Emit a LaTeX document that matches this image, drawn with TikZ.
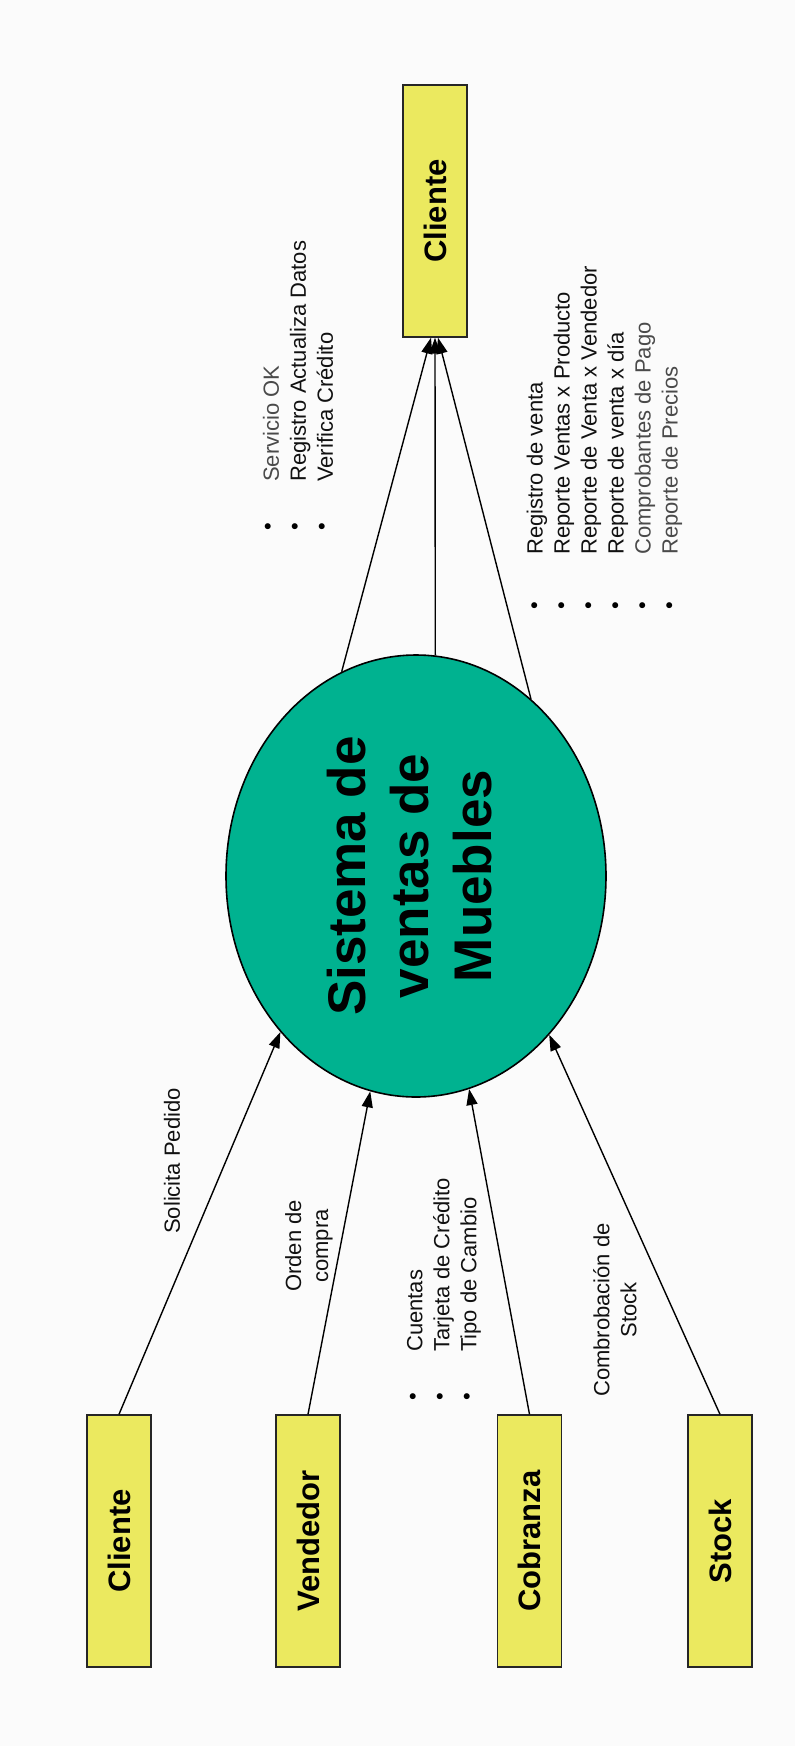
\documentclass[tikz,border=0pt]{standalone}
\usepackage{fontspec}
\usepackage{graphicx}
\setmainfont{Liberation Sans}
\usetikzlibrary{shapes.geometric,arrows.meta}

\definecolor{boxyellow}{HTML}{EBE95F}
\definecolor{procteal}{HTML}{00B290}
\definecolor{pagebg}{HTML}{FBFBFB}
\definecolor{inktext}{HTML}{111111}
\definecolor{softtext}{HTML}{4A4A4A}

\begin{document}
\begin{tikzpicture}[x=1pt,y=1pt,
  entity/.style={draw=black!85, line width=1.4pt, fill=boxyellow,
    minimum width=64pt, minimum height=252pt, inner sep=0pt,
    font=\bfseries\fontsize{31}{36}\selectfont},
  process/.style={ellipse, draw=black, line width=1.6pt, fill=procteal,
    minimum width=380pt, minimum height=442pt, inner sep=0pt,
    font=\bfseries\fontsize{53}{63}\selectfont},
  flow/.style={line width=1.4pt, -{Triangle[length=16pt,width=11pt]}},
  lbl/.style={rotate=90, inner sep=0pt, text=inktext,
    font=\fontsize{22}{27}\selectfont},
  dots/.style={rotate=90, inner sep=0pt, align=left, text=black,
    font=\fontsize{22}{27}\selectfont},
]
% page
\fill[pagebg] (0,0) rectangle (795,-1746);
\useasboundingbox (0,0) rectangle (795,-1746);

% central process
\node[process] (sys) at (416,-876)
  {\rotatebox{90}{\begin{tabular}{@{}c@{}}Sistema de\\ventas de\\Muebles\end{tabular}}};

% external entities
\node[entity] (cliOut) at (435,-211) {\rotatebox{90}{Cliente}};
\node[entity] (cliIn)  at (119,-1541) {\rotatebox{90}{Cliente}};
\node[entity] (vend)   at (308,-1541) {\rotatebox{90}{Vendedor}};
\node[entity] (cobr)   at (529.5,-1541) {\rotatebox{90}{Cobranza}};
\node[entity] (stock)  at (720,-1541) {\rotatebox{90}{Stock}};

% incoming flows
\draw[flow] (cliIn.north) -- (sys.229);
\draw[flow] (vend.north)  -- (sys.258);
\draw[flow] (cobr.north)  -- (sys.284);
\draw[flow] (stock.north) -- (sys.310);

% outgoing flows
\draw[flow] (sys.110) -- ([xshift=-4pt]cliOut.south);
\draw[flow] (sys.85)  -- (cliOut.south);
\draw[flow] (sys.57)  -- ([xshift=3pt]cliOut.south);

% flow labels, lower half
\node[lbl] (lSol) at (172,-1161) {Solicita Pedido};
\node[lbl, align=center] (lOrd) at (309,-1246) {Orden de\\compra};
\node[lbl, align=left, anchor=west] (lCob) at (444,-1352)
  {Cuentas\\Tarjeta de Crédito\\Tipo de Cambio};
\node[dots] (dCob) at (442,-1397) {•\\•\\•};
\node[lbl, align=center] (lStk) at (615,-1310) {Combrobación de\\Stock};

% flow labels, upper half
\node[lbl, align=left, anchor=west] (lSrv) at (298,-482)
  {\textcolor{softtext}{Servicio OK}\\Registro Actualiza Datos\\Verifica Crédito};
\node[dots] (dSrv) at (297,-527) {•\\•\\•};
\node[lbl, align=left, anchor=west] (lRep) at (604.5,-555)
  {Registro de venta\\Reporte Ventas x Producto\\Reporte de Venta x Vendedor\\%
   Reporte de venta x día\\\textcolor{softtext}{Comprobantes de Pago}\\%
   \textcolor{softtext}{Reporte de Precios}};
\node[dots] (dRep) at (604,-606) {•\\•\\•\\•\\•\\•};
\end{tikzpicture}
\end{document}
